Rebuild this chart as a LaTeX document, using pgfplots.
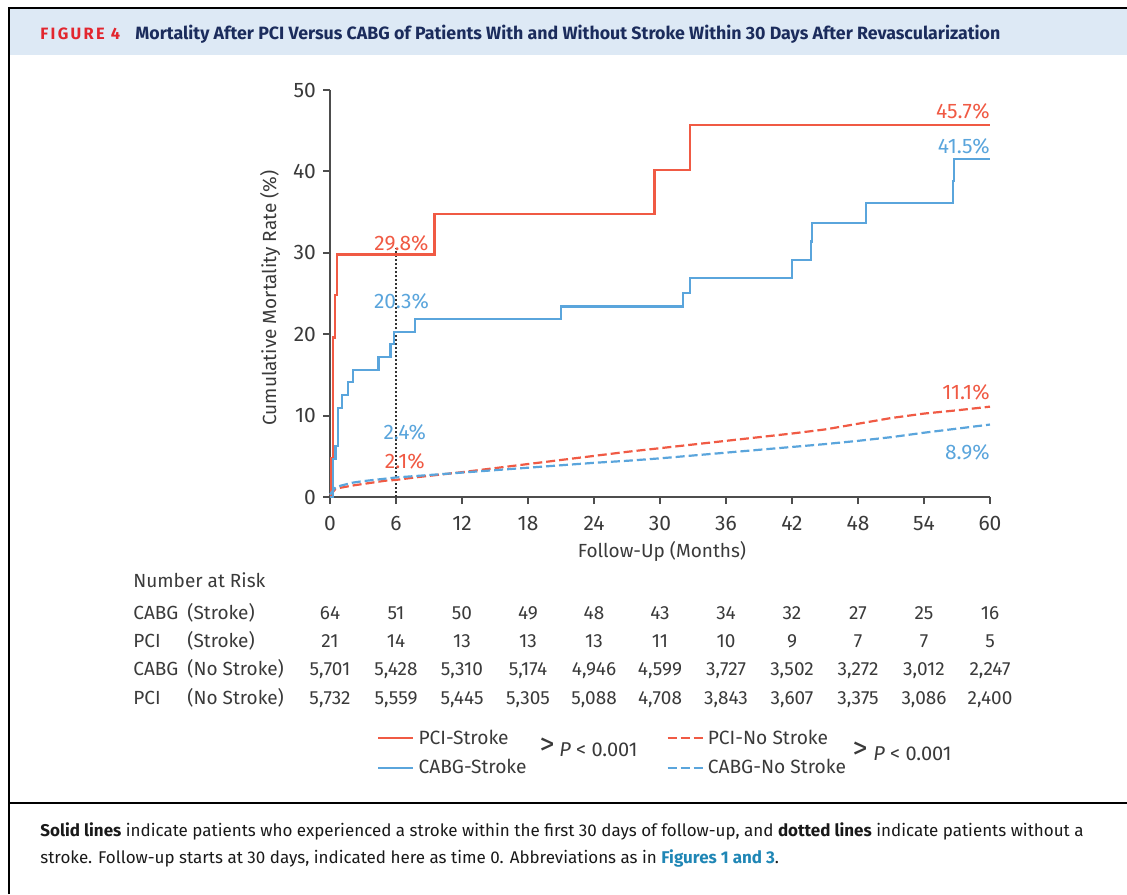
\documentclass[border=0pt]{standalone}
\usepackage{fontspec}
\setmainfont{Fira Sans}
\usepackage{pgfplots}
\pgfplotsset{compat=1.18}
\definecolor{cred}{HTML}{F05A44}
\definecolor{cblue}{HTML}{5AA5DC}
\definecolor{tband}{HTML}{DDE9F5}
\definecolor{tnavy}{HTML}{1B2C5C}
\definecolor{tred}{HTML}{E2262E}
\definecolor{txt}{HTML}{3A3A3A}
\definecolor{axc}{HTML}{4D4D4D}
\definecolor{linkc}{HTML}{1F86B5}
\begin{document}
\begin{tikzpicture}
\useasboundingbox (0,0) rectangle (563.5pt,-447pt);
\begin{scope}[x=0.5pt,y=-0.5pt]
\fill[tband] (10,9) rectangle (1127,55);
\draw[black,line width=1.1pt] (9,894) -- (9,8) -- (1127,8);
\draw[black,line width=1pt] (9,803) -- (1127,803);
\node[anchor=base west,inner sep=0] at (40,39) {\fontsize{8.2}{9}\selectfont\bfseries\color{tred}\addfontfeatures{LetterSpace=14}FIGURE 4};
\node[anchor=base west,inner sep=0] at (135,39) {\fontsize{8.9}{10}\selectfont\bfseries\color{tnavy}Mortality After PCI Versus CABG of Patients With and Without Stroke Within 30 Days After Revascularization};
% number at risk
\begin{scope}[every node/.style={inner sep=0,text=txt,font=\fontsize{9.5}{10}\selectfont}]
\node[anchor=base west] at (133,587) {Number at Risk};
\node[anchor=base west] at (133,619) {CABG};
\node[anchor=base west] at (187,619) {(Stroke)};
\node[anchor=base west] at (133,647) {PCI};
\node[anchor=base west] at (187,647) {(Stroke)};
\node[anchor=base west] at (133,675) {CABG};
\node[anchor=base west] at (187,675) {(No Stroke)};
\node[anchor=base west] at (133,704) {PCI};
\node[anchor=base west] at (187,704) {(No Stroke)};
\foreach \v [count=\i from 0] in {64,51,50,49,48,43,34,32,27,25,16}
  \node[anchor=base] at (330+66*\i,619) {\v};
\foreach \v [count=\i from 0] in {21,14,13,13,13,11,10,9,7,7,5}
  \node[anchor=base] at (330+66*\i,647) {\v};
\foreach \v [count=\i from 0] in {{5,701},{5,428},{5,310},{5,174},{4,946},{4,599},{3,727},{3,502},{3,272},{3,012},{2,247}}
  \node[anchor=base] at (330+66*\i,675) {\v};
\foreach \v [count=\i from 0] in {{5,732},{5,559},{5,445},{5,305},{5,088},{4,708},{3,843},{3,607},{3,375},{3,086},{2,400}}
  \node[anchor=base] at (330+66*\i,704) {\v};
\node[font=\fontsize{15}{16}\selectfont] at (547,746) {>};
\node[anchor=west,font=\fontsize{10}{11}\selectfont] at (559,750) {\textit{P} < 0.001};
\node[font=\fontsize{15}{16}\selectfont] at (860,750) {>};
\node[anchor=west,font=\fontsize{10}{11}\selectfont] at (873,754) {\textit{P} < 0.001};
\end{scope}
% caption
\node[anchor=base west,inner sep=0,font=\fontsize{8.5}{10}\selectfont,text=black!90] at (40,836) {\textbf{Solid lines} indicate patients who experienced a stroke within the first 30 days of follow-up, and \textbf{dotted lines} indicate patients without a};
\node[anchor=base west,inner sep=0,font=\fontsize{8.5}{10}\selectfont,text=black!90] at (40,863) {stroke. Follow-up starts at 30 days, indicated here as time 0. Abbreviations as in \textcolor{linkc}{\textbf{Figures 1 and 3}}.};
\end{scope}
\begin{axis}[
  at={(165pt,-248.5pt)}, anchor=south west,
  scale only axis, width=330pt, height=203.5pt,
  xmin=0, xmax=60, ymin=0, ymax=50,
  axis x line*=bottom, axis y line*=left,
  axis line style={axc,line width=1.2pt,-},
  xtick={0,6,...,60}, ytick={0,10,...,50},
  tick align=outside, major tick length=3.5pt,
  tick style={axc,line width=1pt},
  ticklabel style={font=\fontsize{10.5}{11}\selectfont,text=txt},
  xticklabel style={yshift=-2.5pt},
  /pgf/number format/assume math mode=true,
  clip=false,
  legend columns=2,
  legend cell align=left,
  legend image code/.code={\draw[#1] (0pt,0pt) -- (17.5pt,0pt);},
  legend style={at={(0.062,-0.551)}, anchor=north west, draw=none, fill=none,
     font=\fontsize{9.6}{10}\selectfont, text=txt, row sep=2pt,
     /tikz/every even column/.append style={column sep=68pt}},
]
\addplot[forget plot, black!80, line width=1pt, dash pattern=on 1pt off 1pt] coordinates {(6,0) (6,30.6)};
\addplot[const plot, cred, line width=1.1pt] coordinates {
(0,0) (0.1,4.8) (0.3,19.6) (0.45,24.8) (0.6,29.8) (9.5,34.8) (29.5,40.2) (32.7,45.7) (60,45.7)};
\addlegendentry{PCI-Stroke}
\addplot[cred, line width=1.1pt, dash pattern=on 4.5pt off 2pt] coordinates {
(0,0.2) (0.5,1.0) (1,1.15) (2,1.4) (3,1.6) (4,1.8) (5,2.0) (6,2.1) (8,2.45) (10,2.75) (12,3.05) (15,3.55) (18,4.05) (21,4.55) (24,5.05) (27,5.55) (30,6.0) (33,6.45) (36,6.9) (39,7.35) (42,7.8) (45,8.3) (48,9.0) (51,9.7) (54,10.25) (57,10.65) (60,11.1)};
\addlegendentry{PCI-No Stroke}
\addplot[const plot, cblue, line width=1.1pt] coordinates {
(0,0) (0.3,4.7) (0.5,6.25) (0.7,10.9) (1.1,12.5) (1.65,14.1) (2.1,15.6) (4.4,17.2) (5.5,18.75) (5.85,20.3) (7.7,21.9) (21.0,23.4) (32.1,25.1) (32.7,26.9) (42.0,29.1) (43.7,31.4) (43.8,33.7) (48.7,36.1) (56.65,38.8) (56.75,41.5) (60,41.5)};
\addlegendentry{CABG-Stroke}
\addplot[cblue, line width=1.1pt, dash pattern=on 4.5pt off 2pt] coordinates {
(0,0.3) (0.5,1.2) (1,1.4) (2,1.75) (3,1.95) (4,2.1) (5,2.25) (6,2.4) (8,2.6) (10,2.8) (12,3.0) (15,3.3) (18,3.6) (21,3.9) (24,4.2) (27,4.45) (30,4.75) (33,5.1) (36,5.45) (39,5.8) (42,6.15) (45,6.5) (48,6.9) (51,7.35) (54,7.9) (57,8.4) (60,8.9)};
\addlegendentry{CABG-No Stroke}
\node[cred,anchor=east,inner sep=0,font=\fontsize{10.5}{11}\selectfont] at (axis cs:60,47.4) {45.7\%};
\node[cblue,anchor=east,inner sep=0,font=\fontsize{10.5}{11}\selectfont] at (axis cs:60,43.1) {41.5\%};
\node[cred,inner sep=0,font=\fontsize{10.5}{11}\selectfont] at (axis cs:6.5,31.2) {29.8\%};
\node[cblue,inner sep=0,font=\fontsize{10.5}{11}\selectfont] at (axis cs:6.5,24.0) {20.3\%};
\node[cblue,inner sep=0,font=\fontsize{10.5}{11}\selectfont] at (axis cs:6.8,7.9) {2.4\%};
\node[cred,inner sep=0,font=\fontsize{10.5}{11}\selectfont] at (axis cs:6.8,4.4) {2.1\%};
\node[cred,anchor=east,inner sep=0,font=\fontsize{10.5}{11}\selectfont] at (axis cs:60,12.8) {11.1\%};
\node[cblue,anchor=east,inner sep=0,font=\fontsize{10.5}{11}\selectfont] at (axis cs:60,5.5) {8.9\%};
\node[rotate=90,text=txt,font=\fontsize{9.5}{10}\selectfont] at (axis description cs:-0.0909,0.489) {Cumulative Mortality Rate (\%)};
\node[text=txt,font=\fontsize{9.5}{10}\selectfont] at (axis description cs:0.503,-0.133) {Follow-Up (Months)};
\end{axis}
\end{tikzpicture}
\end{document}
